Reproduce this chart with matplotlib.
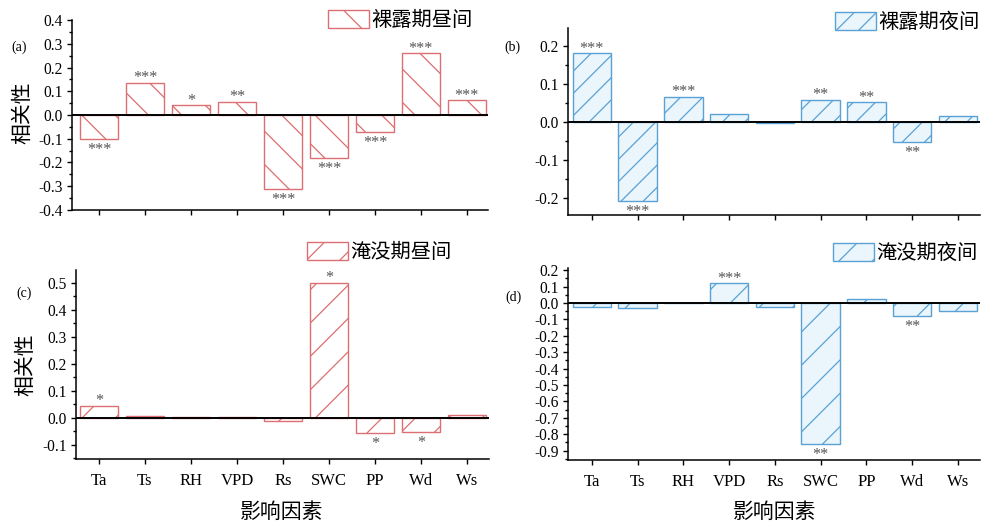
import numpy as np
import matplotlib
matplotlib.use("Agg")
import matplotlib.pyplot as plt
from matplotlib.ticker import MultipleLocator, FormatStrFormatter

# ---- data ----
factors = ["Ta", "Ts", "RH", "VPD", "Rs", "SWC", "PP", "Wd", "Ws"]

bare_day = [-0.10, 0.135, 0.042, 0.055, -0.31, -0.18, -0.07, 0.26, 0.063]
bare_day_sig = ["***", "***", "*", "**", "***", "***", "***", "***", "***"]

bare_night = [0.18, -0.207, 0.066, 0.02, -0.003, 0.058, 0.052, -0.053, 0.016]
bare_night_sig = ["***", "***", "***", "", "", "**", "**", "**", ""]

flood_day = [0.045, 0.008, 0.002, 0.003, -0.012, 0.50, -0.055, -0.052, 0.012]
flood_day_sig = ["*", "", "", "", "", "*", "*", "*", ""]

flood_night = [-0.025, -0.03, 0.0, 0.12, -0.025, -0.86, 0.025, -0.078, -0.05]
flood_night_sig = ["", "", "", "***", "", "**", "", "**", ""]

series_names = ["裸露期昼间", "裸露期夜间", "淹没期昼间", "淹没期夜间"]
panel_tags = ["(a)", "(b)", "(c)", "(d)"]

# ---- style ----
W, H, DPI = 986, 525, 200
PT = 72.0 / DPI          # points per pixel
RED = "#dc6f71"
BLUE = "#5aa2d6"
SERIF = "Liberation Serif"
CJK = ["Noto Sans CJK SC", "DejaVu Sans"]

plt.rcParams["axes.unicode_minus"] = False
plt.rcParams["hatch.linewidth"] = 0.45
plt.rcParams["font.family"] = SERIF

fig = plt.figure(figsize=(W / DPI, H / DPI), dpi=DPI)


def box(left, top, right, bottom):
    return fig.add_axes([left / W, 1 - bottom / H, (right - left) / W, (bottom - top) / H])


def fx(px):
    return px / W


def fy(py):
    return 1 - py / H


panels = [
    dict(vals=bare_day, sig=bare_day_sig, rect=(72, 20, 488, 210), ylim=(-0.4, 0.4),
         xlim=(-0.59, 8.46), color=RED, fill="white", hatch="\\\\", leg=(328, 10),
         tag=(19, 47), bottom=False),
    dict(vals=bare_night, sig=bare_night_sig, rect=(568, 28, 980, 215), ylim=(-0.245, 0.247),
         xlim=(-0.52, 8.48), color=BLUE, fill="#eaf5fc", hatch="///", leg=(835, 12),
         tag=(512, 47), bottom=False),
    dict(vals=flood_day, sig=flood_day_sig, rect=(76, 270, 489, 459), ylim=(-0.152, 0.548),
         xlim=(-0.5, 8.48), color=RED, fill="white", hatch="//", leg=(307, 242),
         tag=(24, 293), bottom=True),
    dict(vals=flood_night, sig=flood_night_sig, rect=(568, 268, 980, 460), ylim=(-0.957, 0.213),
         xlim=(-0.52, 8.48), color=BLUE, fill="#eaf5fc", hatch="//", leg=(833, 243),
         tag=(513, 297), bottom=True),
]

x = np.arange(len(factors))
for p, name, tag in zip(panels, series_names, panel_tags):
    ax = box(*p["rect"])
    bars = ax.bar(x, p["vals"], width=0.84, color=p["fill"], edgecolor=p["color"],
                  hatch=p["hatch"], linewidth=0.5, zorder=2)
    ax.axhline(0, color="black", lw=0.7, zorder=3)

    for xi, v, s in zip(x, p["vals"], p["sig"]):
        if not s:
            continue
        off = 4.5 if v >= 0 else -11
        ax.annotate(s, (xi, v), xytext=(0, off * PT), textcoords="offset points",
                    ha="center", va="center", fontsize=5.8, color="#555555", family=SERIF)

    ax.set_xlim(*p["xlim"])
    ax.set_ylim(*p["ylim"])
    for side in ["top", "right"]:
        ax.spines[side].set_visible(False)
    for side in ["left", "bottom"]:
        ax.spines[side].set_linewidth(0.55)

    ax.yaxis.set_major_locator(MultipleLocator(0.1))
    ax.yaxis.set_minor_locator(MultipleLocator(0.05))
    ax.yaxis.set_major_formatter(FormatStrFormatter("%.1f"))
    ax.tick_params(axis="y", which="major", direction="out", length=5 * PT, width=0.5,
                   pad=4 * PT, labelsize=5.6)
    ax.tick_params(axis="y", which="minor", direction="out", length=3 * PT, width=0.5)
    ax.set_xticks(x)
    ax.tick_params(axis="x", direction="out", length=5 * PT, width=0.5, pad=9 * PT,
                   labelsize=6)
    if p["bottom"]:
        ax.set_xticklabels(factors)
    else:
        ax.set_xticklabels([])

    leg = ax.legend([bars], [name], loc="upper left",
                    bbox_to_anchor=(fx(p["leg"][0]), fy(p["leg"][1])),
                    bbox_transform=fig.transFigure, frameon=False, borderpad=0,
                    borderaxespad=0, handlelength=2.0, handleheight=1.0,
                    handletextpad=0.15, prop=dict(family=CJK, size=7.3))

    fig.text(fx(p["tag"][0]), fy(p["tag"][1]), tag, ha="center", va="center",
             fontsize=5, family=SERIF)

# axis titles
fig.text(fx(22), fy(113), "相关性", rotation=90, ha="center", va="center",
         fontsize=7.5, family=CJK)
fig.text(fx(25), fy(365), "相关性", rotation=90, ha="center", va="center",
         fontsize=7.5, family=CJK)
fig.text(fx(282), fy(512), "影响因素", ha="center", va="center", fontsize=7.5, family=CJK)
fig.text(fx(775), fy(512), "影响因素", ha="center", va="center", fontsize=7.5, family=CJK)

fig.savefig("out.png", dpi=DPI)
